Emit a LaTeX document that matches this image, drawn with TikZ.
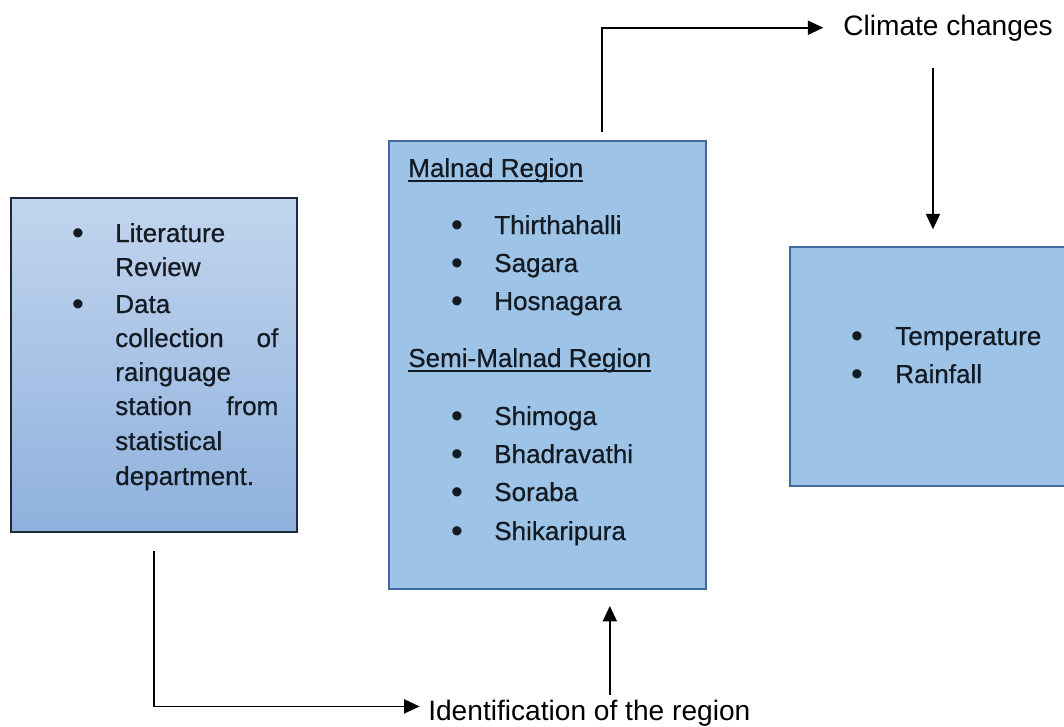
\documentclass[tikz,border=0pt]{standalone}
\usepackage{fontspec}
\setmainfont{Liberation Sans}
\usetikzlibrary{arrows.meta}
\definecolor{littop}{HTML}{C2D5EE}
\definecolor{litbot}{HTML}{8EB1DD}
\definecolor{litline}{HTML}{1F2A38}
\definecolor{boxfill}{HTML}{9DC3E6}
\definecolor{boxline}{HTML}{41699F}
\definecolor{ink}{HTML}{141A22}
\newlength\ulw
\newcommand{\headul}[1]{\settowidth{\ulw}{#1}\rlap{\rule[-3.4pt]{\ulw}{1.3pt}}#1}
\tikzstyle{litbox}=[draw=litline,line width=1.4pt,top color=littop,bottom color=litbot,minimum width=7.15cm,minimum height=8.35cm,inner sep=0pt]
\tikzstyle{regbox}=[draw=boxline,line width=1.2pt,fill=boxfill,inner sep=0pt]
\tikzstyle{txt}=[anchor=base west,inner sep=0pt,text=ink,font=\fontsize{18.5}{22}\selectfont\addfontfeature{FakeBold=0.6}]
\tikzstyle{bul}=[anchor=base,inner sep=0pt,text=ink,font=\fontsize{24}{24}\selectfont]
\tikzstyle{lbl}=[anchor=base west,inner sep=0pt,font=\fontsize{20}{24}\selectfont]
\tikzstyle{arr}=[-{Triangle[length=11pt,width=10pt]},line width=1.3pt]

\begin{document}
\begin{tikzpicture}[x=0.025cm,y=-0.025cm]
\useasboundingbox (0,0) rectangle (1064,726);
\node[litbox] (lit) at (154,365) {};
\node[regbox,minimum width=7.925cm,minimum height=11.2cm] (reg) at (547.5,365) {};
\node[regbox,minimum width=7.25cm,minimum height=5.975cm] (par) at (935,366.5) {};

\node[bul] (b1) at (78,244) {\textbullet};
\node[bul] (b2) at (78,315) {\textbullet};
\node[txt] (l1) at (115,242) {Literature};
\node[txt] (l2) at (115,276) {Review};
\node[txt] (l3) at (115,313) {Data};
\node[txt] (l4) at (115,347) {\makebox[4.075cm][s]{collection of}};
\node[txt] (l5) at (115,381) {rainguage};
\node[txt] (l6) at (115,415) {\makebox[4.075cm][s]{station from}};
\node[txt] (l7) at (115,450) {statistical};
\node[txt] (l8) at (115,485) {department.};

\node[txt] (mal) at (408,177) {\headul{Malnad Region}};
\node[bul] (mb1) at (457,236) {\textbullet}; \node[txt] (m1) at (494,234) {Thirthahalli};
\node[bul] (mb2) at (457,274) {\textbullet}; \node[txt] (m2) at (494,272) {Sagara};
\node[bul] (mb3) at (457,312) {\textbullet}; \node[txt] (m3) at (494,310) {Hosnagara};
\node[txt] (semi) at (408,367) {\headul{Semi-Malnad Region}};
\node[bul] (sb1) at (457,427) {\textbullet}; \node[txt] (s1) at (494,425) {Shimoga};
\node[bul] (sb2) at (457,465) {\textbullet}; \node[txt] (s2) at (494,463) {Bhadravathi};
\node[bul] (sb3) at (457,503) {\textbullet}; \node[txt] (s3) at (494,501) {Soraba};
\node[bul] (sb4) at (457,542) {\textbullet}; \node[txt] (s4) at (494,540) {Shikaripura};

\node[bul] (pb1) at (857,347) {\textbullet}; \node[txt] (p1) at (895,345) {Temperature};
\node[bul] (pb2) at (857,385) {\textbullet}; \node[txt] (p2) at (895,383) {Rainfall};

\node[lbl] (clim) at (843,35) {Climate changes};
\node[lbl] (ident) at (428,720) {Identification of the region};

\coordinate (litout) at ([yshift=-12.8pt]lit.south);
\draw[arr] (litout) |- ([xshift=-6pt,yshift=4.5pt]ident.west);
\coordinate (idout) at ([xshift=14.6pt,yshift=3pt]ident.north);
\draw[arr,shorten >=11.4pt] (idout) -- (idout |- reg.south);
\draw[arr] ([xshift=38.8pt,yshift=5.7pt]reg.north) |- ([xshift=-14pt]clim.west);
\coordinate (climout) at ([xshift=-10.7pt,yshift=-19pt]clim.south);
\draw[arr,shorten >=12pt] (climout) -- (climout |- par.north);
\end{tikzpicture}
\end{document}
